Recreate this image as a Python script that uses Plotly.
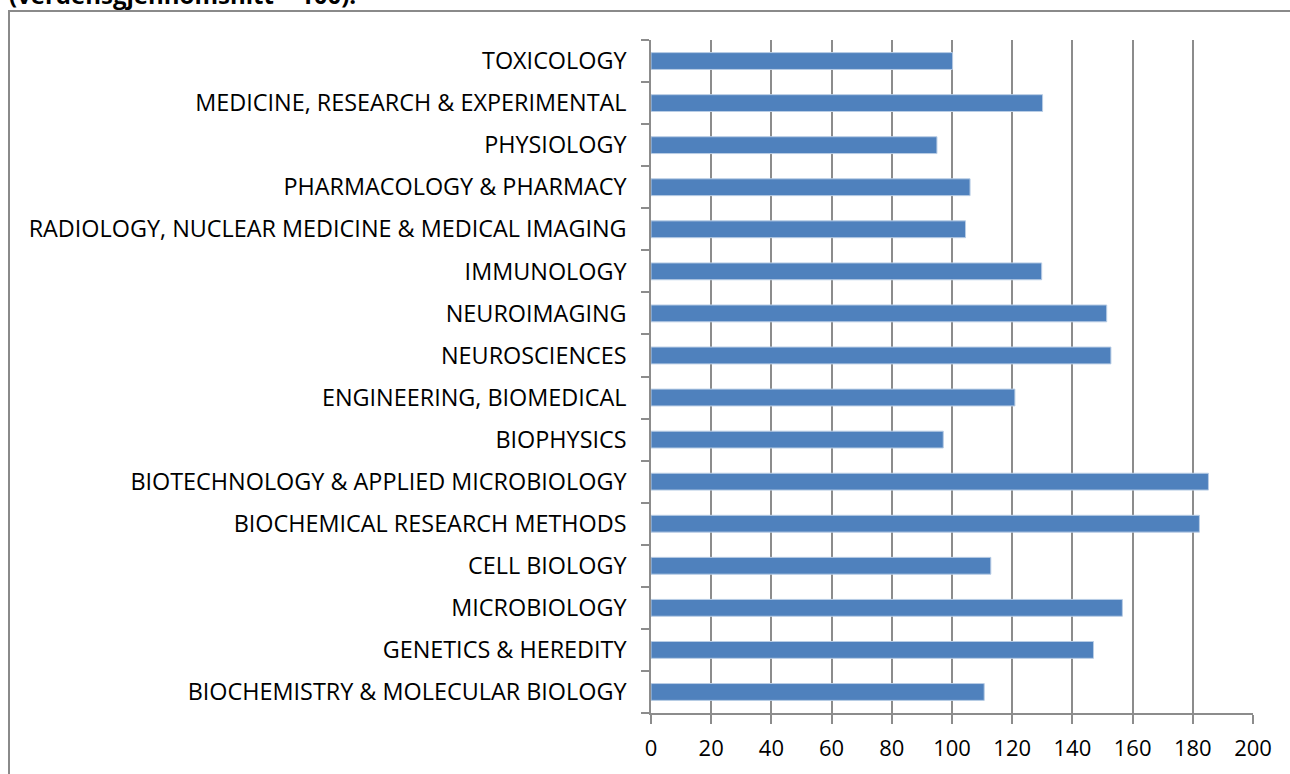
"""
Relativ siteringsindeks per fagfelt (verdensgjennomsnitt = 100).
"""

import plotly.graph_objects as go

# kategorier fra bunn til topp
fagfelt = [
    "BIOCHEMISTRY & MOLECULAR BIOLOGY",
    "GENETICS & HEREDITY",
    "MICROBIOLOGY",
    "CELL BIOLOGY",
    "BIOCHEMICAL RESEARCH METHODS",
    "BIOTECHNOLOGY & APPLIED MICROBIOLOGY",
    "BIOPHYSICS",
    "ENGINEERING, BIOMEDICAL",
    "NEUROSCIENCES",
    "NEUROIMAGING",
    "IMMUNOLOGY",
    "RADIOLOGY, NUCLEAR MEDICINE & MEDICAL IMAGING",
    "PHARMACOLOGY & PHARMACY",
    "PHYSIOLOGY",
    "MEDICINE, RESEARCH & EXPERIMENTAL",
    "TOXICOLOGY",
]
indeks = [110.7, 147.0, 156.6, 112.9, 182.2, 185.2, 97.1, 120.9,
          152.8, 151.4, 129.8, 104.5, 106.0, 95.0, 130.1, 100.2]

x_ticks = list(range(0, 201, 20))

W, H = 1290, 774
L, R, T, B = 651, 37, 40, 61
pw, ph = W - L - R, H - T - B


def px_x(p):
    return (p - L) / pw


def px_y(p):
    return (H - B - p) / ph


GRID = "#8c8c8c"
FONT = "Open Sans, Arial, sans-serif"

fig = go.Figure()
fig.add_trace(
    go.Bar(
        x=indeks,
        y=fagfelt,
        orientation="h",
        marker=dict(color="#4f81bd", line=dict(width=1, color="#b9cde5")),
        hovertemplate="%{y}<br>%{x}<extra></extra>",
    )
)

fig.update_layout(
    width=W,
    height=H,
    margin=dict(l=L, r=R, t=T, b=B),
    plot_bgcolor="white",
    paper_bgcolor="white",
    bargap=0.6,
    showlegend=False,
    font=dict(family=FONT, color="#000000", size=18),
)
fig.update_xaxes(
    range=[0, 200],
    tickvals=x_ticks,
    showgrid=True,
    gridcolor=GRID,
    gridwidth=1.5,
    showline=True,
    linecolor=GRID,
    linewidth=1.5,
    ticks="outside",
    ticklen=9,
    tickcolor=GRID,
    tickwidth=1.5,
    tickfont=dict(size=22),
    ticklabelstandoff=6,
    zeroline=False,
)
fig.update_yaxes(
    type="category",
    showgrid=False,
    showline=True,
    linecolor=GRID,
    linewidth=1.5,
    ticks="outside",
    tickson="boundaries",
    ticklen=8,
    tickcolor=GRID,
    tickwidth=1.5,
    tickfont=dict(size=23.4),
    ticklabelstandoff=18,
)

# ramme rundt diagrammet (går ut over høyre og nedre kant)
fig.add_shape(
    type="rect",
    xref="paper", yref="paper",
    x0=px_x(9), x1=px_x(W + 20),
    y0=px_y(H + 20), y1=px_y(11),
    line=dict(color="#8a8a8a", width=2),
    fillcolor="rgba(0,0,0,0)",
    layer="below",
)

# avkuttet overskrift øverst
fig.add_annotation(
    text="<b>(verdensgjennomsnitt = 100).</b>",
    xref="paper", yref="paper",
    x=px_x(7), y=px_y(13),
    xanchor="left", yanchor="bottom",
    showarrow=False,
    font=dict(family=FONT, size=24, color="#000000"),
)

# siden uten standardmarg, slik at figuren starter i hjørnet
fig.write_html(
    "out.html",
    config={"displayModeBar": False},
    post_script="document.body.style.margin='0';",
)
